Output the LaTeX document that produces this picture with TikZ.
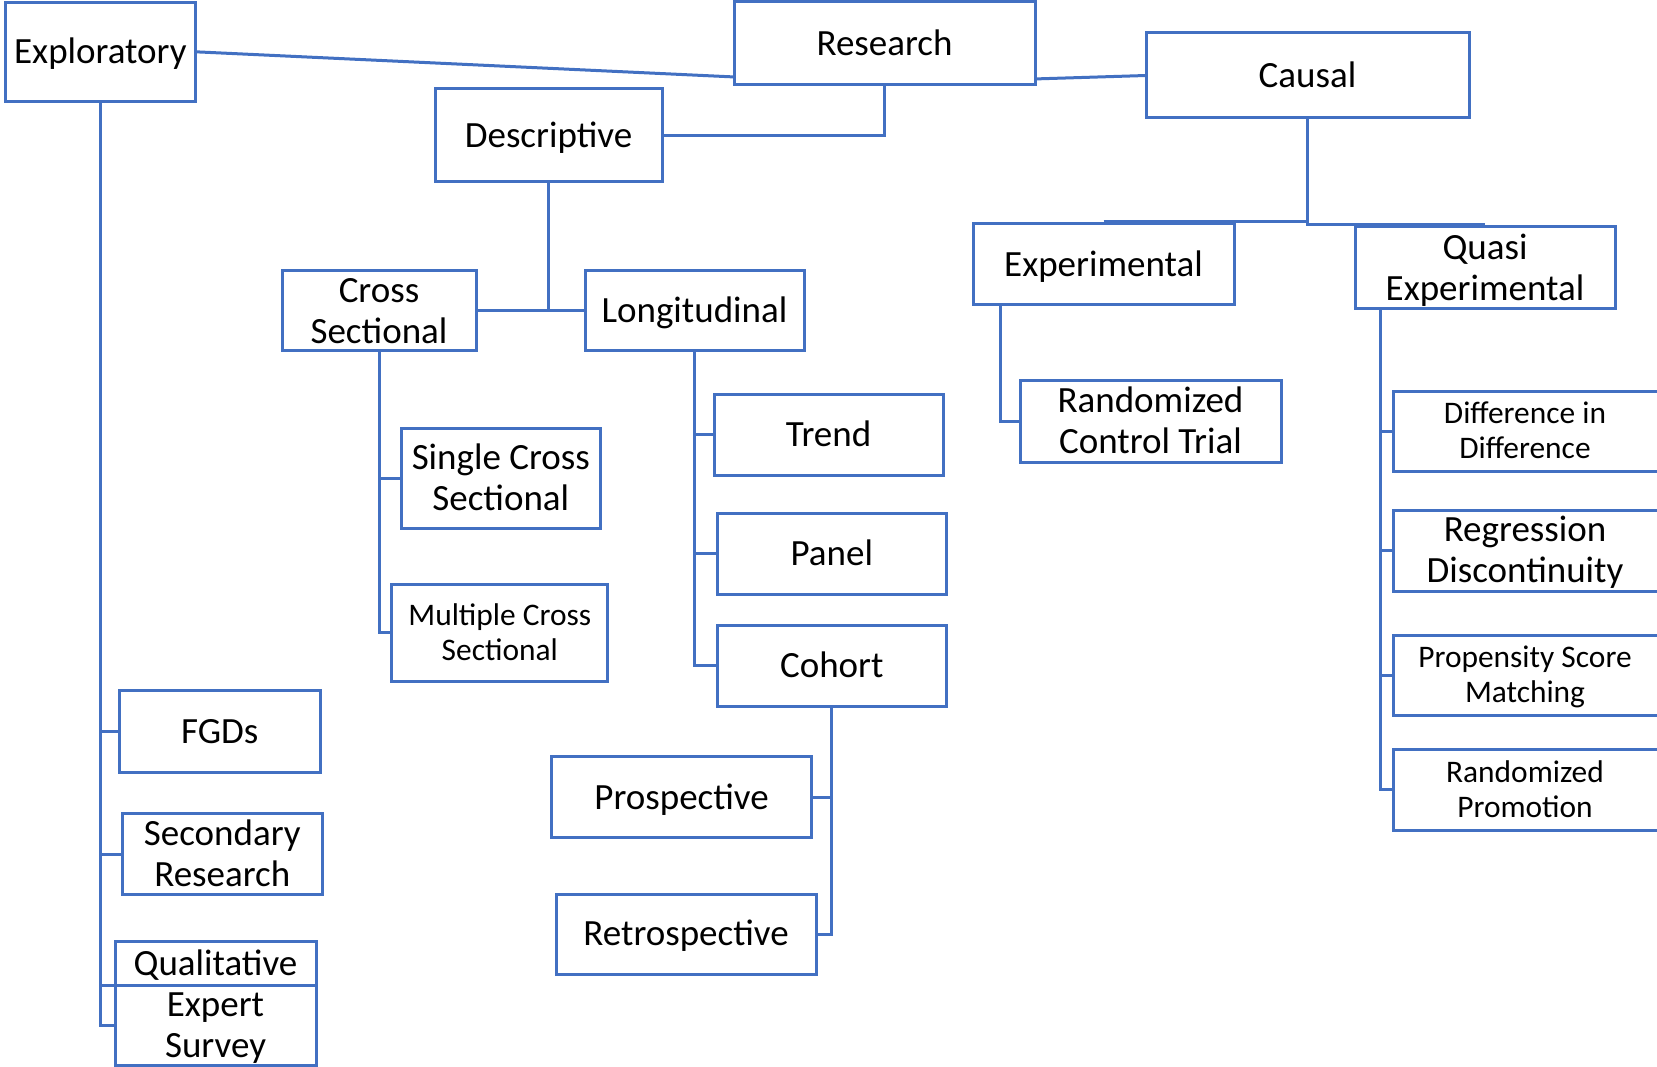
\documentclass[tikz,border=0pt]{standalone}
\usepackage{fontspec}
\setmainfont{Carlito}
\usetikzlibrary{calc}
\definecolor{bl}{HTML}{4270C2}
\newcommand\Tl[1]{\rule[-0.106em]{0pt}{0.856em}\smash{#1}}
\lineskiplimit=-1000pt
\begin{document}
\begin{tikzpicture}[x=1pt,y=-1pt,
  box/.style={draw=bl, line width=3pt, inner sep=0pt, outer sep=0pt, align=center,
    text=black, font=\fontsize{37}{41}\selectfont},
  openbox/.style={box, draw=none},
  small/.style={font=\fontsize{31.4}{35}\selectfont},
  conn/.style={draw=bl, line width=3pt}]
\fill[white] (0,0) rectangle (1657,1067);
\useasboundingbox (0,0) rectangle (1657,1067);
% top level
\node[box, minimum width=190pt, minimum height=99.5pt] (expl) at (100.4,51.8) {\Tl{Exploratory}};
\node[box, minimum width=301pt, minimum height=82.5pt] (res) at (884.5,43.2) {\Tl{Research}};
\node[box, minimum width=323pt, minimum height=85pt] (causal) at (1307.5,75.5) {\Tl{Causal}};
\node[box, minimum width=227pt, minimum height=93pt] (desc) at (548.5,135.5) {\Tl{Descriptive}};
% descriptive
\node[box, minimum width=194pt, minimum height=80.5pt] (cross) at (379,310.7) {\Tl{Cross}\\\Tl{Sectional}};
\node[box, minimum width=219pt, minimum height=80.5pt] (longi) at (694.5,310.7) {\Tl{Longitudinal}};
\node[box, minimum width=198.4pt, minimum height=100pt] (single) at (500.8,478) {\Tl{Single Cross}\\\Tl{Sectional}};
\node[box, small, minimum width=215.7pt, minimum height=97.6pt] (multi) at (499.8,632.8) {\Tl{Multiple Cross}\\\Tl{Sectional}};
\node[box, minimum width=229pt, minimum height=81.6pt] (trend) at (828.5,434.8) {\Tl{Trend}};
\node[box, minimum width=228.4pt, minimum height=80.4pt] (panel) at (831.8,553.8) {\Tl{Panel}};
\node[box, minimum width=228.4pt, minimum height=80.4pt] (cohort) at (831.8,665.8) {\Tl{Cohort}};
\node[box, minimum width=260pt, minimum height=81.3pt] (pros) at (681.6,797.3) {\Tl{Prospective}};
\node[box, minimum width=260pt, minimum height=80pt] (retro) at (686,934) {\Tl{Retrospective}};
% causal
\node[box, minimum width=261pt, minimum height=81pt] (exper) at (1103.5,264.5) {\Tl{Experimental}};
\node[box, minimum width=260pt, minimum height=81.6pt] (quasi) at (1485,267.8) {\Tl{Quasi}\\\Tl{Experimental}};
\node[box, minimum width=261pt, minimum height=82pt] (rct) at (1150.5,421) {\Tl{Randomized}\\\Tl{Control Trial}};
\node[openbox, small, minimum width=264pt, minimum height=80pt] (did) at (1525,431) {\Tl{Difference in}\\\Tl{Difference}};
\node[openbox, minimum width=264pt, minimum height=81pt] (rd) at (1525,550.5) {\Tl{Regression}\\\Tl{Discontinuity}};
\node[openbox, small, minimum width=264pt, minimum height=80pt] (psm) at (1525,675) {\Tl{Propensity Score}\\\Tl{Matching}};
\node[openbox, small, minimum width=264pt, minimum height=81pt] (rp) at (1525,789.5) {\Tl{Randomized}\\\Tl{Promotion}};
\foreach \n in {did,rd,psm,rp}
  \draw[conn] ($(\n.north east)+(30,0)$) -- (\n.north west) -- (\n.south west) -- ($(\n.south east)+(30,0)$);
% exploratory
\node[box, minimum width=200.6pt, minimum height=81.5pt] (fgd) at (219.7,731.7) {\Tl{FGDs}};
\node[box, minimum width=199.4pt, minimum height=81.3pt] (sec) at (222.3,854.3) {\Tl{Secondary}\\\Tl{Research}};
\node[box, minimum width=201pt, minimum height=43.4pt] (qual) at (215.5,963.3) {\Tl{Qualitative}};
\node[box, minimum width=201pt, minimum height=80pt] (expert) at (215.5,1025) {\Tl{Expert}\\\Tl{Survey}};
% connectors
\draw[conn] (expl.east) -- ($(res.south west)+(0,-7.5)$);
\draw[conn] ($(res.south east)+(0,-5.5)$) -- (causal.west);
\draw[conn] (res.south) |- (desc.east);
\draw[conn] (cross.east) -- (longi.west);
\draw[conn] (desc.south) -- (desc.south |- cross.east);
\draw[conn] ($(exper.north)+(0,-2)$) -| (causal.south);
\draw[conn] ($(quasi.north)+(0,-2)$) -| (causal.south);
\coordinate (ex) at ($(exper.south west)+(27,0)$);
\draw[conn] (ex) |- (rct.west);
\coordinate (qx) at ($(quasi.south west)+(25,0)$);
\draw[conn] (qx) |- (rp.west);
\foreach \n in {did,rd,psm} \draw[conn] (\n.west) -- (\n.west -| qx);
\draw[conn] (cross.south) |- (multi.west);
\draw[conn] (single.west) -- (single.west -| cross.south);
\draw[conn] (longi.south) |- (cohort.west);
\foreach \n in {trend,panel} \draw[conn] (\n.west) -- (\n.west -| longi.south);
\draw[conn] (cohort.south) |- (retro.east);
\draw[conn] (pros.east) -- (pros.east -| cohort.south);
\draw[conn] (expl.south) |- (expert.west);
\foreach \n in {fgd,sec} \draw[conn] (\n.west) -- (\n.west -| expl.south);
\draw[conn] (qual.south west) -- (qual.south west -| expl.south);
\end{tikzpicture}
\end{document}
